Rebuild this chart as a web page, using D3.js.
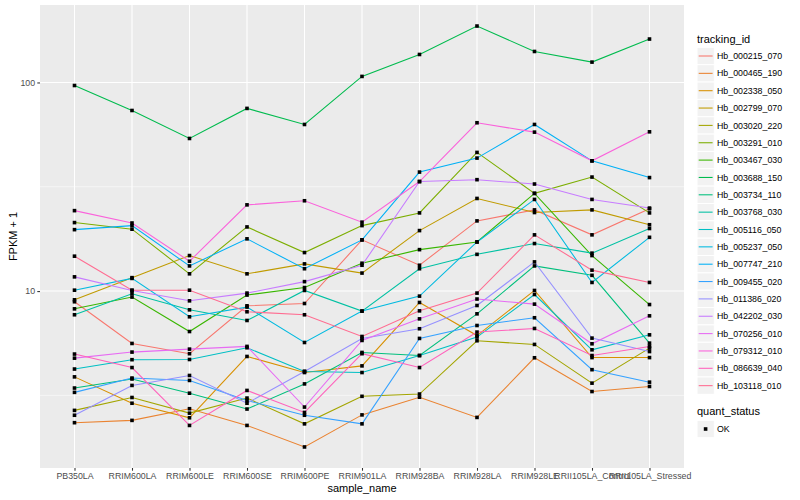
<!DOCTYPE html>
<html><head><meta charset="utf-8">
<script src="https://cdn.jsdelivr.net/npm/d3@7"></script>
<style>body{margin:0;background:#fff}svg{display:block}text{font-family:"Liberation Sans",Arial,Helvetica,sans-serif}</style>
</head><body><svg id="c" width="800" height="500"></svg>
<script>
const samples = ["PB350LA","RRIM600LA","RRIM600LE","RRIM600SE","RRIM600PE","RRIM901LA","RRIM928BA","RRIM928LA","RRIM928LE","RRII105LA_Control","RRII105LA_Stressed"];
const trackingIds = ["Hb_000215_070","Hb_000465_190","Hb_002338_050","Hb_002799_070","Hb_003020_220","Hb_003291_010","Hb_003467_030","Hb_003688_150","Hb_003734_110","Hb_003768_030","Hb_005116_050","Hb_005237_050","Hb_007747_210","Hb_009455_020","Hb_011386_020","Hb_042202_030","Hb_070256_010","Hb_079312_010","Hb_086639_040","Hb_103118_010"];
const trackColors = ["#F8766D","#EA8331","#D89000","#C09B00","#A3A500","#7CAE00","#39B600","#00BB4E","#00BF7D","#00C1A3","#00BFC4","#00BAE0","#00B0F6","#35A2FF","#9590FF","#C77CFF","#E76BF3","#FA62DB","#FF62BC","#FF6C91"];
const yMajorTicks = [10, 100];
const quantStatus = ["OK"];

// FPKM + 1 per sample
const hb_000215_070 = [8.89, 5.61, 5.01, 8.50, 8.72, 17.6, 13.3, 21.7, 24.5, 18.6, 24.8];
const hb_000465_190 = [2.34, 2.40, 2.73, 2.27, 1.79, 2.55, 3.10, 2.48, 4.79, 3.30, 3.49];
const hb_002338_050 = [3.88, 2.90, 2.47, 4.86, 4.07, 4.38, 8.82, 6.12, 10.07, 4.80, 4.80];
const hb_002799_070 = [9.08, 11.6, 14.8, 12.1, 13.5, 12.2, 19.5, 27.8, 23.8, 24.5, 20.8];
const hb_003020_220 = [2.68, 3.09, 2.60, 3.07, 2.31, 3.13, 3.21, 5.78, 5.55, 3.62, 5.33];
const hb_003291_010 = [21.3, 19.8, 12.1, 20.3, 15.3, 20.6, 23.7, 46.2, 29.4, 35.2, 23.7];
const hb_003467_030 = [8.22, 9.36, 6.40, 9.57, 10.4, 13.6, 15.8, 17.2, 29.4, 14.8, 8.62];
const hb_003688_150 = [96.7, 73.4, 53.9, 75.1, 62.9, 106.9, 136.2, 186.4, 140.8, 125.2, 161.5];
const hb_003734_110 = [3.43, 3.79, 3.24, 2.72, 3.59, 5.08, 4.91, 7.78, 13.2, 11.9, 5.63];
const hb_003768_030 = [7.70, 9.71, 8.13, 7.23, 10.07, 8.02, 12.8, 15.0, 16.9, 15.2, 19.95];
const hb_005116_050 = [4.23, 4.69, 4.70, 5.35, 4.12, 4.07, 4.91, 6.02, 9.63, 5.23, 6.17];
const hb_005237_050 = [10.1, 11.5, 7.53, 8.38, 5.67, 8.02, 9.46, 17.2, 27.5, 11.0, 18.1];
const hb_007747_210 = [19.7, 20.6, 13.2, 17.8, 12.8, 17.6, 37.2, 43.4, 62.9, 42.1, 35.0];
const hb_009455_020 = [3.27, 3.83, 3.73, 2.99, 2.54, 2.31, 5.93, 6.84, 7.45, 4.20, 3.66];
const hb_011386_020 = [2.54, 3.53, 3.94, 2.90, 4.12, 5.93, 6.60, 8.53, 13.8, 5.95, 5.13];
const hb_042202_030 = [11.7, 10.07, 8.98, 9.78, 11.1, 13.3, 33.5, 34.2, 32.6, 27.5, 25.0];
const hb_070256_010 = [4.77, 5.10, 5.27, 5.43, 2.78, 5.80, 7.36, 9.16, 8.66, 5.59, 7.61];
const hb_079312_010 = [24.3, 21.2, 13.9, 25.9, 27.1, 21.4, 33.5, 64.1, 57.8, 42.1, 58.0];
const hb_086639_040 = [4.99, 4.30, 2.27, 3.34, 2.62, 5.01, 4.30, 6.36, 6.62, 4.91, 5.43];
const hb_103118_010 = [14.7, 10.1, 10.1, 7.96, 7.70, 6.06, 8.04, 9.78, 18.6, 12.6, 11.0];

const seriesValues = [hb_000215_070,hb_000465_190,hb_002338_050,hb_002799_070,hb_003020_220,hb_003291_010,hb_003467_030,hb_003688_150,hb_003734_110,hb_003768_030,hb_005116_050,hb_005237_050,hb_007747_210,hb_009455_020,hb_011386_020,hb_042202_030,hb_070256_010,hb_079312_010,hb_086639_040,hb_103118_010];
const series = trackingIds.map((id,i)=>({id, color: trackColors[i], values: seriesValues[i].map((v,j)=>({s: samples[j], v}))}));

const svg = d3.select("#c");
const P = {l:40, r:684, t:5, b:468};

const all = seriesValues.flat();
const lmin = Math.log10(d3.min(all)), lmax = Math.log10(d3.max(all));
const ex = (lmax - lmin) * 0.05;
const y = d3.scaleLog().domain([Math.pow(10, lmin-ex), Math.pow(10, lmax+ex)]).range([P.b, P.t]);
const x = d3.scalePoint().domain(samples).range([P.l, P.r]).padding(0.6);

svg.append("rect").attr("x",P.l).attr("y",P.t).attr("width",P.r-P.l).attr("height",P.b-P.t).attr("fill","#EBEBEB");

const g = svg.append("g");
const minor = [Math.pow(10,0.5), Math.pow(10,1.5)];
g.selectAll(".mn").data(minor).enter().append("line")
  .attr("x1",P.l).attr("x2",P.r).attr("y1",d=>y(d)).attr("y2",d=>y(d))
  .attr("stroke","#fff").attr("stroke-width",0.53);
g.selectAll(".mj").data(yMajorTicks).enter().append("line")
  .attr("x1",P.l).attr("x2",P.r).attr("y1",d=>y(d)).attr("y2",d=>y(d))
  .attr("stroke","#fff").attr("stroke-width",1.07);
g.selectAll(".vx").data(samples).enter().append("line")
  .attr("x1",d=>x(d)).attr("x2",d=>x(d)).attr("y1",P.t).attr("y2",P.b)
  .attr("stroke","#fff").attr("stroke-width",1.07);

const line = d3.line().x(d=>x(d.s)).y(d=>y(d.v));
svg.append("g").selectAll("path").data(series).enter().append("path")
  .attr("d", d=>line(d.values)).attr("fill","none").attr("stroke",d=>d.color).attr("stroke-width",1.07);

const pts = svg.append("g");
series.forEach(sr=>{
  pts.selectAll(null).data(sr.values).enter().append("rect")
    .attr("x",d=>x(d.s)-1.8).attr("y",d=>y(d.v)-1.8).attr("width",3.6).attr("height",3.6).attr("fill","#000");
});

// axes
const yAxis = d3.axisLeft(y).tickValues(yMajorTicks).tickFormat(d3.format("d")).tickSize(2.7).tickPadding(2.2);
const ya = svg.append("g").attr("transform",`translate(${P.l},0)`).call(yAxis);
ya.select(".domain").remove();
ya.selectAll("line").attr("stroke","#333").attr("stroke-width",1.07);
ya.selectAll("text").attr("fill","#4D4D4D").style("font-size","8.8px");

const xAxis = d3.axisBottom(x).tickSize(2.7).tickPadding(2.2);
const xa = svg.append("g").attr("transform",`translate(0,${P.b})`).call(xAxis);
xa.select(".domain").remove();
xa.selectAll("line").attr("stroke","#333").attr("stroke-width",1.07);
xa.selectAll("text").attr("fill","#4D4D4D").style("font-size","8.8px");

svg.append("text").attr("x",(P.l+P.r)/2).attr("y",492).attr("text-anchor","middle").style("font-size","11px").attr("fill","#000").text("sample_name");
svg.append("text").attr("transform",`translate(17,${(P.t+P.b)/2}) rotate(-90)`).attr("text-anchor","middle").style("font-size","11px").attr("fill","#000").text("FPKM + 1");

// legend
const lg = svg.append("g");
lg.append("text").attr("x",697).attr("y",43).style("font-size","11px").text("tracking_id");
const ks = 17.35, k0 = 56;
series.forEach((sr,i)=>{
  const cy = k0 + i*ks;
  lg.append("rect").attr("x",697).attr("y",cy-ks/2).attr("width",17.3).attr("height",ks).attr("fill","#F2F2F2").attr("stroke","#fff").attr("stroke-width",1);
  lg.append("line").attr("x1",698.7).attr("x2",712.6).attr("y1",cy).attr("y2",cy).attr("stroke",sr.color).attr("stroke-width",1.07);
  lg.append("text").attr("x",717).attr("y",cy+3.1).style("font-size","8.8px").text(sr.id);
});
lg.append("text").attr("x",697).attr("y",415).style("font-size","11px").text("quant_status");
quantStatus.forEach((q,i)=>{
  const cy = 429 + i*ks;
  lg.append("rect").attr("x",697).attr("y",cy-ks/2).attr("width",17.3).attr("height",ks).attr("fill","#F2F2F2").attr("stroke","#fff").attr("stroke-width",1);
  lg.append("rect").attr("x",705.6-1.8).attr("y",cy-1.8).attr("width",3.6).attr("height",3.6).attr("fill","#000");
  lg.append("text").attr("x",717).attr("y",cy+3.1).style("font-size","8.8px").text(q);
});
</script></body></html>
